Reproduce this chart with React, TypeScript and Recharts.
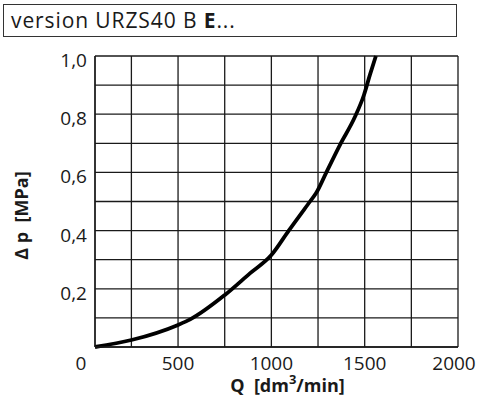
import React from 'react';
import { LineChart, Line, XAxis, YAxis, CartesianGrid } from 'recharts';

// flow Q [dm3/min] vs pressure drop [MPa]
const qValues = [55, 250, 500, 565, 751, 885, 1000, 1093, 1207, 1239, 1296, 1367, 1448, 1496, 1528, 1560];
const dpValues = [0, 0.024, 0.076, 0.095, 0.179, 0.253, 0.316, 0.4, 0.5, 0.528, 0.602, 0.694, 0.791, 0.866, 0.935, 1.0];

const xTicks = [55, 250, 500, 750, 1000, 1250, 1500, 1750, 2000];
const xTickLabels: Record<number, string> = { 55: '0', 500: '500', 1000: '1000', 1500: '1500', 2000: '2000' };
const yTicks = [0, 0.1, 0.2, 0.3, 0.4, 0.5, 0.6, 0.7, 0.8, 0.9, 1.0];
const yTickLabels: Record<string, string> = { '0.2': '0,2', '0.4': '0,4', '0.6': '0,6', '0.8': '0,8', '1': '1,0' };

const data = qValues.map((q, i) => ({ q, dp: dpValues[i] }));

const FONT = '"Open Sans", sans-serif';
const INK = '#1a1a1a';

const XTick = (props: any) => {
  const { x, y, payload } = props;
  const label = xTickLabels[payload.value];
  if (!label) return null;
  let shift = 0;
  if (payload.value === 55) shift = -14;
  if (payload.value === 2000) shift = -4;
  return (
    <text x={x + shift} y={y} dy={15} textAnchor="middle" fontFamily={FONT} fontSize={19} fill={INK}>
      {label}
    </text>
  );
};

const YTick = (props: any) => {
  const { x, y, payload } = props;
  const label = yTickLabels[String(Math.round(payload.value * 10) / 10)];
  if (!label) return null;
  return (
    <text x={x} y={y} dy={11} textAnchor="end" fontFamily={FONT} fontSize={19} fill={INK}>
      {label}
    </text>
  );
};

const XTitle = (props: any) => {
  const vb = props.viewBox;
  return (
    <text
      x={vb.x + vb.width / 2 + 11}
      y={vb.y + 45}
      textAnchor="middle"
      fontFamily={FONT}
      fontSize={18}
      fontWeight="bold"
      fill={INK}
      style={{ whiteSpace: 'pre' }}
    >
      {'Q  [dm'}
      <tspan dy={-8} fontSize={13}>3</tspan>
      <tspan dy={8}>/min]</tspan>
    </text>
  );
};

const YTitle = (props: any) => {
  const vb = props.viewBox;
  const cx = vb.x + 28;
  const cy = vb.y + vb.height / 2 + 14;
  return (
    <text
      x={cx}
      y={cy}
      transform={`rotate(-90, ${cx}, ${cy})`}
      textAnchor="middle"
      fontFamily={FONT}
      fontSize={18}
      fontWeight="bold"
      fill={INK}
      style={{ whiteSpace: 'pre' }}
    >
      {'Δ p  [MPa]'}
    </text>
  );
};

export default function App() {
  return (
    <div style={{ position: 'absolute', left: 0, top: 0, width: 478, height: 407, background: '#fff' }}>
      <div
        style={{
          position: 'absolute',
          left: 3,
          top: 4,
          width: 445,
          height: 31,
          border: '1.5px solid #333',
          fontFamily: FONT,
          fontSize: 21,
          letterSpacing: 0.9,
          lineHeight: '31px',
          paddingLeft: 7,
          color: INK,
          boxSizing: 'content-box',
          whiteSpace: 'nowrap',
        }}
      >
        version URZS40 B <b>E</b>...
      </div>
      <LineChart width={478} height={407} data={data} margin={{ top: 56, right: 20, bottom: 0, left: 0 }}>
        <CartesianGrid stroke={INK} strokeWidth={1.3} />
        <XAxis
          dataKey="q"
          type="number"
          domain={[55, 2000]}
          ticks={xTicks}
          interval={0}
          tickLine={false}
          axisLine={{ stroke: INK, strokeWidth: 1.3 }}
          tick={<XTick />}
          height={60}
          label={{ content: <XTitle /> }}
        />
        <YAxis
          type="number"
          domain={[0, 1]}
          ticks={yTicks}
          interval={0}
          tickLine={false}
          axisLine={{ stroke: INK, strokeWidth: 1.3 }}
          tick={<YTick />}
          width={95}
          label={{ content: <YTitle /> }}
        />
        <Line
          dataKey="dp"
          type="monotone"
          stroke="#000"
          strokeWidth={3.8}
          dot={false}
          isAnimationActive={false}
        />
      </LineChart>
    </div>
  );
}
